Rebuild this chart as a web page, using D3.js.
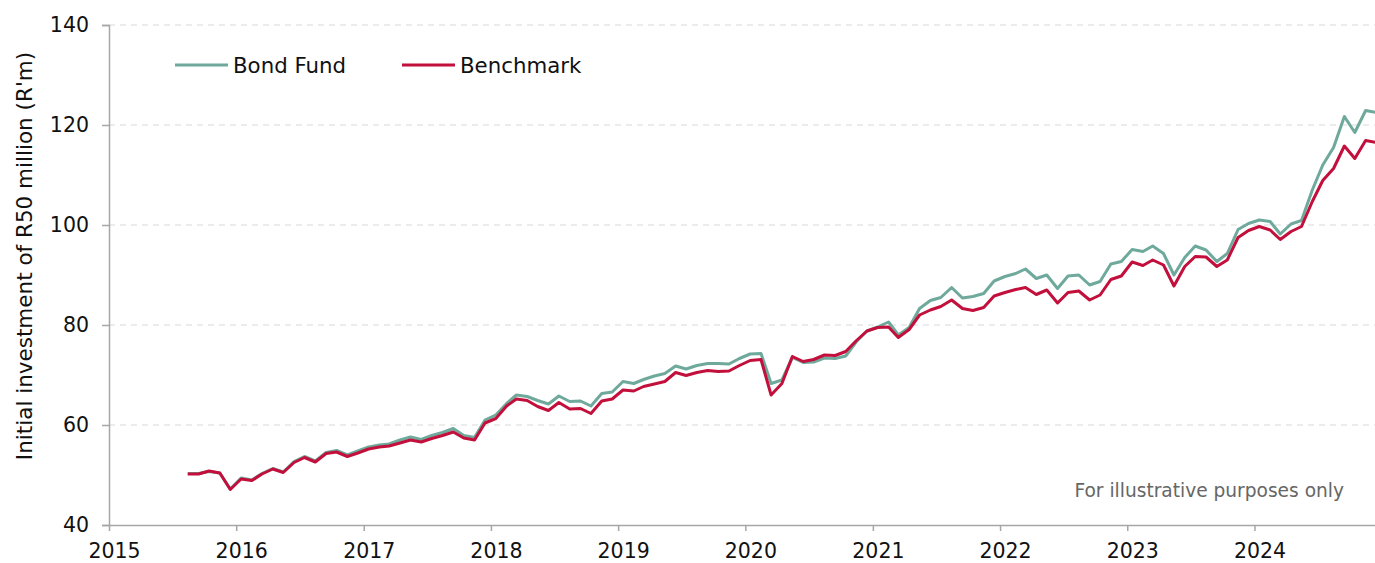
<!DOCTYPE html>
<html>
<head>
<meta charset="utf-8">
<script src="https://cdn.jsdelivr.net/npm/d3@7"></script>
<style>
  body { margin: 0; background: #fff; }
  svg { display: block; font-family: "DejaVu Sans", Verdana, sans-serif; }
</style>
</head>
<body>
<svg id="chart"></svg>
<script>
// monthly values, Aug 2015 .. Dec 2024 (plotted mid-month)
var startYear = 2015, startMonth = 7;

var bondFund = [
  50.3, 50.3, 50.7, 50.4, 47.2, 49.4, 49.0, 50.3, 51.3, 50.6,
  52.7, 53.7, 52.8, 54.5, 54.9, 54.0, 54.8, 55.6, 56.0, 56.2,
  57.0, 57.6, 57.1, 57.9, 58.5, 59.3, 57.9, 57.5, 61.0, 62.0,
  64.3, 66.0, 65.7, 64.9, 64.2, 65.8, 64.7, 64.8, 63.8, 66.3,
  66.6, 68.7, 68.3, 69.1, 69.8, 70.3, 71.8, 71.2, 71.9, 72.3,
  72.3, 72.2, 73.3, 74.2, 74.3, 68.3, 69.0, 73.5, 72.5, 72.6,
  73.4, 73.3, 73.8, 76.7, 78.8, 79.6, 80.6, 78.0, 79.5, 83.3,
  84.9, 85.5, 87.5, 85.4, 85.7, 86.3, 88.8, 89.7, 90.3, 91.2,
  89.3, 90.0, 87.3, 89.8, 90.0, 88.0, 88.7, 92.2, 92.7, 95.1,
  94.7, 95.8, 94.3, 90.0, 93.5, 95.8, 95.0, 92.7, 94.3, 99.1,
  100.3, 101.0, 100.7, 98.2, 100.2, 100.9, 107.0, 112.0, 115.5, 121.7,
  118.5, 122.9, 122.5
];

var benchmark = [
  50.2, 50.2, 50.8, 50.4, 47.1, 49.2, 48.9, 50.2, 51.2, 50.5,
  52.5, 53.5, 52.6, 54.3, 54.6, 53.7, 54.4, 55.2, 55.6, 55.8,
  56.4, 57.0, 56.6, 57.3, 57.9, 58.6, 57.4, 57.0, 60.4, 61.3,
  63.8, 65.2, 64.9, 63.7, 62.9, 64.5, 63.2, 63.3, 62.3, 64.8,
  65.2, 67.0, 66.8, 67.7, 68.2, 68.7, 70.5, 69.9, 70.5, 70.9,
  70.7, 70.8, 71.9, 72.9, 73.1, 66.0, 68.3, 73.7, 72.7, 73.1,
  74.0, 73.9, 74.7, 76.9, 78.8, 79.5, 79.6, 77.5, 79.1, 82.0,
  83.0, 83.7, 85.0, 83.3, 82.9, 83.5, 85.8, 86.5, 87.1, 87.5,
  86.1, 87.0, 84.4, 86.5, 86.8, 85.0, 86.0, 89.1, 89.8, 92.6,
  91.9, 93.0, 92.0, 87.8, 91.7, 93.7, 93.6, 91.7, 93.0, 97.5,
  98.9, 99.7, 99.0, 97.1, 98.7, 99.7, 104.7, 108.9, 111.3, 115.8,
  113.3, 116.9, 116.5
];

var yTicks = [40, 60, 80, 100, 120, 140];
var xTickYears = [2015, 2016, 2017, 2018, 2019, 2020, 2021, 2022, 2023, 2024];

var seriesNames = ["Bond Fund", "Benchmark"];
var seriesColors = ["#6fa99b", "#c20f3b"];

var W = 1375, H = 563;
var margin = {top: 25, left: 109};
var plotBottom = 525;

var svg = d3.select("#chart").attr("width", W).attr("height", H);

var x = d3.scaleTime()
  .domain([new Date(2015, 0, 1), new Date(2025, 0, 1)])
  .range([margin.left, margin.left + 127.3 * 10]);

var y = d3.scaleLinear()
  .domain([40, 140])
  .range([plotBottom, margin.top]);

function dateAt(i) {
  return new Date(startYear, startMonth + i, 15);
}

// gridlines
svg.append("g")
  .selectAll("line")
  .data(yTicks.filter(function(d) { return d > 40; }))
  .enter().append("line")
  .attr("x1", margin.left)
  .attr("x2", W)
  .attr("y1", function(d) { return y(d); })
  .attr("y2", function(d) { return y(d); })
  .attr("stroke", "#d9d9d9")
  .attr("stroke-width", 1)
  .attr("stroke-dasharray", "6,5");

// y axis
var yAxis = svg.append("g")
  .attr("transform", "translate(" + margin.left + ",0)")
  .call(d3.axisLeft(y).tickValues(yTicks).tickSize(7).tickPadding(13));
yAxis.select(".domain").attr("stroke", "#a6a6a6").attr("stroke-width", 1.5);
yAxis.selectAll(".tick line").attr("stroke", "#a6a6a6").attr("stroke-width", 1.5);
yAxis.selectAll("text")
  .attr("font-size", "20.5px")
  .attr("font-family", "DejaVu Sans")
  .attr("fill", "#111");

// x axis
var xAxis = svg.append("g")
  .attr("transform", "translate(0," + plotBottom + ")")
  .call(d3.axisBottom(x)
    .tickValues(xTickYears.map(function(yr) { return new Date(yr, 0, 1); }))
    .tickFormat(d3.timeFormat("%Y"))
    .tickSize(6).tickPadding(12).tickSizeOuter(0));
xAxis.select(".domain").attr("stroke", "#a6a6a6").attr("stroke-width", 1.5);
xAxis.selectAll(".tick line").attr("stroke", "#a6a6a6").attr("stroke-width", 1.5);
xAxis.selectAll("text")
  .attr("font-size", "20.5px")
  .attr("font-family", "DejaVu Sans")
  .attr("dx", 5)
  .attr("fill", "#111");

// lines
var line = d3.line()
  .x(function(d, i) { return x(dateAt(i)); })
  .y(function(d) { return y(d); });

[bondFund, benchmark].forEach(function(vals, k) {
  svg.append("path")
    .datum(vals)
    .attr("fill", "none")
    .attr("stroke", seriesColors[k])
    .attr("stroke-width", 3)
    .attr("stroke-linejoin", "round")
    .attr("d", line);
});

// legend
var legendX = [175, 402];
seriesNames.forEach(function(name, k) {
  var g = svg.append("g").attr("transform", "translate(" + legendX[k] + ",65)");
  g.append("line")
    .attr("x1", 0).attr("x2", 53)
    .attr("stroke", seriesColors[k])
    .attr("stroke-width", 3);
  g.append("text")
    .attr("x", 58)
    .attr("y", 8)
    .attr("font-size", "21.3px")
    .attr("fill", "#111")
    .text(name);
});

// y title
svg.append("text")
  .attr("transform", "translate(32,256) rotate(-90)")
  .attr("text-anchor", "middle")
  .attr("font-size", "21.5px")
  .attr("fill", "#111")
  .text("Initial investment of R50 million (R'm)");

// note
svg.append("text")
  .attr("x", 1344)
  .attr("y", 497)
  .attr("text-anchor", "end")
  .attr("font-size", "18.6px")
  .attr("fill", "#666")
  .text("For illustrative purposes only");
</script>
</body>
</html>
